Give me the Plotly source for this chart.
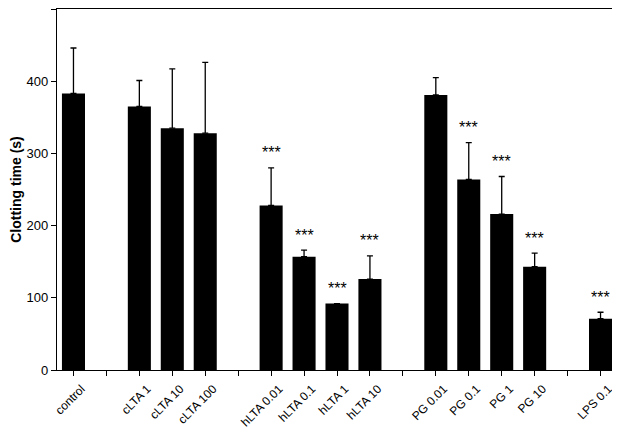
import plotly.graph_objects as go

# slots along the x axis, empty strings are the gaps between groups
labels = ['control', '', 'cLTA 1', 'cLTA 10', 'cLTA 100', '',
          'hLTA 0.01', 'hLTA 0.1', 'hLTA 1', 'hLTA 10', '',
          'PG 0.01', 'PG 0.1', 'PG 1', 'PG 10', '', 'LPS 0.1']
clotting = [383, None, 365, 335, 328, None,
            228, 157, 92, 126, None,
            381, 264, 216, 143, None, 71]
sd = [63, None, 36, 82, 98, None,
      52, 9, 0, 32, None,
      24, 51, 52, 19, None, 9]
signif = ['', '', '', '', '', '',
          '***', '***', '***', '***', '',
          '', '***', '***', '***', '', '***']

slots = list(range(len(labels)))
FONT = 'Liberation Sans, Arial, sans-serif'

fig = go.Figure()
fig.add_trace(go.Bar(
    x=slots, y=clotting, width=0.7,
    marker=dict(color='black', line=dict(width=0)),
    error_y=dict(type='data', symmetric=False, array=sd,
                 arrayminus=[0] * len(sd), color='black',
                 thickness=1.3, width=3),
))

# significance stars above the error bars
for i, s in enumerate(signif):
    if s:
        fig.add_annotation(x=i, y=clotting[i] + sd[i], text=s,
                           showarrow=False, yshift=15,
                           font=dict(family=FONT, size=16, color='black'))

# the page puts the figure 8px in from the top left corner
fig.update_layout(
    width=612, height=421,
    margin=dict(l=49, r=3, t=1, b=59),
    paper_bgcolor='white', plot_bgcolor='white',
    showlegend=False,
    font=dict(family=FONT, color='black'),
)
fig.update_xaxes(
    range=[-0.5, len(labels) - 0.5],
    tickvals=slots, ticktext=labels, tickangle=-45,
    tickfont=dict(size=12), ticks='outside', ticklen=5,
    ticklabelshift=8, ticklabelstandoff=1,
    tickcolor='black', showline=True, linecolor='black', linewidth=1.3,
    mirror=True, showgrid=False, zeroline=False, automargin=False,
)
fig.update_yaxes(
    range=[0, 500], tickvals=[0, 100, 200, 300, 400, 500],
    tickfont=dict(size=13), ticks='outside', ticklen=5, tickcolor='black',
    showline=True, linecolor='black', linewidth=1.3, mirror=True,
    showgrid=False, zeroline=False, automargin=False,
    title=dict(text='<b>Clotting time (s)</b>', font=dict(size=14), standoff=6),
)

fig.write_html("out.html")
